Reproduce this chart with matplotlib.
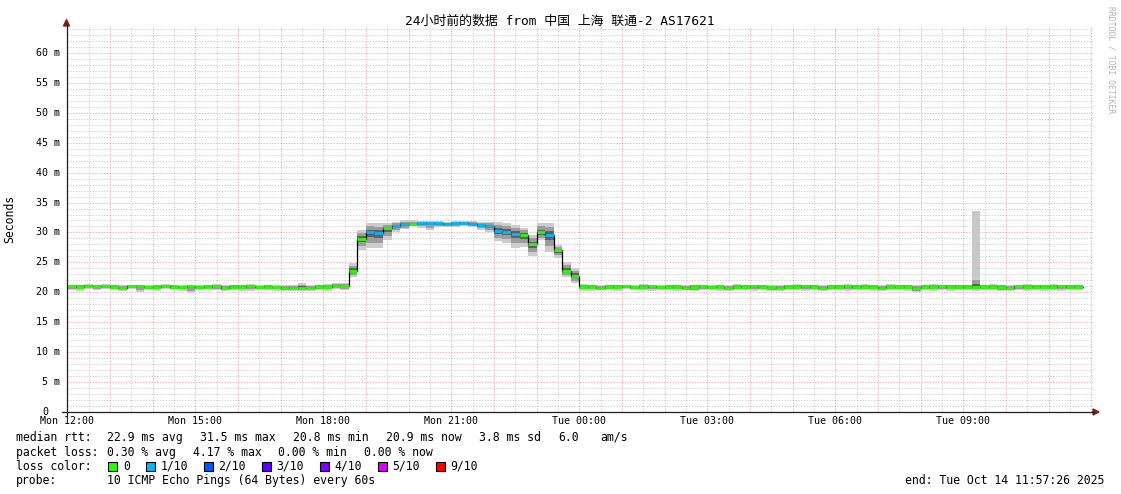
import matplotlib
matplotlib.use('Agg')
import matplotlib.pyplot as plt
from matplotlib.lines import Line2D
from matplotlib.patches import Polygon, Rectangle

# ---------------- data (12-minute bins, hours from Mon 12:00) ----------------
bin_hours = 0.2
first_bin_start = -0.2
median_ms = [
    20.9, 21.0, 20.9, 21.1, 21.0, 21.0, 20.9, 20.8, 21.0, 21.0,
    20.9, 20.9, 21.0, 20.9, 20.9, 21.0, 20.9, 20.9, 21.0, 20.8,
    20.9, 20.9, 21.0, 20.9, 20.9, 20.9, 20.8, 20.8, 20.8, 20.8,
    20.9, 20.9, 21.1, 21.0, 23.6, 28.9, 30.0, 29.9, 30.7, 31.1,
    31.4, 31.4, 31.5, 31.5, 31.5, 31.4, 31.5, 31.5, 31.45, 31.25,
    31.1, 30.3, 30.1, 29.75, 29.5, 28.0, 30.0, 29.6, 27.0, 23.6,
    22.8, 20.9, 20.9, 20.8, 20.9, 20.9, 21.0, 20.9, 20.9, 21.0,
    20.9, 20.9, 20.9, 20.8, 20.9, 21.0, 20.9, 20.9, 20.8, 20.9,
    20.9, 21.0, 20.9, 20.9, 20.8, 20.9, 20.9, 21.0, 20.9, 20.8,
    20.9, 20.9, 21.0, 20.9, 20.9, 20.9, 20.8, 20.9, 20.9, 20.9,
    20.8, 20.9, 20.9, 21.0, 20.9, 20.9, 20.9, 20.9, 20.9, 20.9,
    20.9, 20.8, 21.0, 20.9, 20.9, 20.9, 20.9, 21.0, 20.9, 20.9,
]
loss_tenths = [
    0, 0, 0, 0, 0, 0, 0, 0, 0, 0,
    0, 0, 0, 0, 0, 0, 0, 0, 0, 0,
    0, 0, 0, 0, 0, 0, 0, 0, 0, 0,
    0, 0, 0, 0, 0, 0, 1, 1, 0, 1,
    1, 0, 1, 1, 1, 1, 1, 1, 1, 1,
    1, 1, 1, 1, 0, 0, 0, 1, 0, 0,
    0, 0, 0, 0, 0, 0, 0, 0, 0, 0,
    0, 0, 0, 0, 0, 0, 0, 0, 0, 0,
    0, 0, 0, 0, 0, 0, 0, 0, 0, 0,
    0, 0, 0, 0, 0, 0, 0, 0, 0, 0,
    0, 0, 0, 0, 0, 0, 0, 0, 0, 0,
    0, 0, 0, 0, 0, 0, 0, 0, 0, 0,
]
smoke_low = [
    20.3, 20.4, 20.3, 20.5, 20.4, 20.5, 20.4, 20.3, 20.5, 20.0,
    20.4, 20.3, 20.5, 20.4, 20.3, 19.9, 20.4, 20.5, 20.4, 20.3,
    20.4, 20.3, 20.2, 20.4, 20.4, 20.3, 20.2, 20.3, 20.2, 20.3,
    20.4, 20.3, 20.5, 20.4, 22.6, 27.1, 27.4, 27.4, 28.7, 30.1,
    30.5, 31.0, 30.8, 30.4, 30.9, 30.9, 30.9, 31.0, 30.9, 30.4,
    30.1, 28.5, 28.3, 27.4, 27.6, 26.0, 28.7, 26.8, 25.7, 22.6,
    21.5, 20.3, 20.3, 20.4, 20.4, 20.3, 20.5, 20.4, 20.4, 20.3,
    20.4, 20.4, 20.3, 20.4, 20.2, 20.4, 20.4, 20.3, 20.3, 20.4,
    20.4, 20.3, 20.4, 20.2, 20.3, 20.4, 20.4, 20.3, 20.4, 20.3,
    20.4, 20.4, 20.3, 20.4, 20.4, 20.3, 20.2, 20.4, 20.4, 20.3,
    20.0, 20.4, 20.3, 20.4, 20.3, 20.4, 20.4, 20.3, 20.4, 20.4,
    20.2, 20.3, 20.4, 20.3, 20.4, 20.3, 20.4, 20.3, 20.4, 20.4,
]
smoke_high = [
    21.4, 21.3, 21.3, 21.4, 21.3, 21.4, 21.3, 21.2, 21.3, 21.3,
    21.2, 21.3, 21.4, 21.3, 21.2, 21.3, 21.2, 21.3, 21.4, 21.2,
    21.3, 21.3, 21.4, 21.2, 21.3, 21.2, 21.3, 21.2, 21.5, 21.3,
    21.3, 21.4, 21.6, 21.6, 24.9, 30.4, 31.6, 31.5, 31.5, 31.8,
    32.0, 32.0, 31.9, 31.9, 31.9, 31.8, 31.9, 31.9, 31.9, 31.8,
    31.8, 31.8, 31.6, 31.3, 30.8, 29.6, 31.6, 31.6, 27.9, 25.0,
    24.0, 21.4, 21.3, 21.2, 21.3, 21.3, 21.3, 21.2, 21.4, 21.3,
    21.2, 21.3, 21.3, 21.2, 21.3, 21.3, 21.2, 21.3, 21.3, 21.4,
    21.3, 21.3, 21.3, 21.2, 21.3, 21.3, 21.4, 21.3, 21.3, 21.2,
    21.3, 21.3, 21.4, 21.3, 21.4, 21.3, 21.3, 21.4, 21.3, 21.3,
    21.2, 21.3, 21.4, 21.3, 21.3, 21.3, 21.3, 22.6, 21.3, 21.4,
    21.3, 21.3, 21.3, 21.4, 21.3, 21.3, 21.4, 21.3, 21.3, 21.3,
]
outlier_bins = [107]
outlier_ms = [33.6]

y_ticks = [0, 5, 10, 15, 20, 25, 30, 35, 40, 45, 50, 55, 60]
y_tick_labels = ["0", "5 m", "10 m", "15 m", "20 m", "25 m", "30 m", "35 m",
                 "40 m", "45 m", "50 m", "55 m", "60 m"]
x_ticks = [0, 3, 6, 9, 12, 15, 18, 21]
x_tick_labels = ["Mon 12:00", "Mon 15:00", "Mon 18:00", "Mon 21:00",
                 "Tue 00:00", "Tue 03:00", "Tue 06:00", "Tue 09:00"]

title = "24小时前的数据 from 中国 上海 联通-2 AS17621"
loss_levels = ["0", "1/10", "2/10", "3/10", "4/10", "5/10", "9/10"]
loss_colors = ["#26ff00", "#00b8ff", "#0059ff", "#5e00ff", "#7e00ff", "#dd00ff", "#ff0000"]
rtt_stats = ["22.9 ms avg", "31.5 ms max", "20.8 ms min", "20.9 ms now", "3.8 ms sd", "6.0", "am/s"]
loss_stats = ["0.30 % avg", "4.17 % max", "0.00 % min", "0.00 % now"]

# ---------------- figure ----------------
W, H = 1121, 494
fig = plt.figure(figsize=(W / 100, H / 100), dpi=100)
fig.patch.set_facecolor("white")
MONO = "DejaVu Sans Mono"


def fx(px):
    return px / W


def fy(py):
    return 1 - py / H


ax_l, ax_r, ax_t, ax_b = 66.5, 1093, 26, 412
ax = fig.add_axes([fx(ax_l), fy(ax_b), fx(ax_r) - fx(ax_l), fy(ax_t) - fy(ax_b)])
ax.set_xlim(-0.0187, 24.04)
ax.set_ylim(0, 64.5)
ax.set_facecolor("white")
for s in ax.spines.values():
    s.set_visible(False)
ax.set_xticks([])
ax.set_yticks([])

minor_c = (0.56, 0.56, 0.56, 0.38)
major_c = (0.87, 0.31, 0.31, 0.42)
dash = (0, (1.4, 1.4))
for v in range(1, 65):
    if v % 5 == 0:
        ax.axhline(v, color=major_c, lw=0.72, linestyle=dash, zorder=0)
    else:
        ax.axhline(v, color=minor_c, lw=0.72, linestyle=dash, zorder=0)
for k in range(0, 49):
    t = k * 0.5
    if t <= 0:
        continue
    if k % 2 == 0:
        ax.axvline(t, color=major_c, lw=0.72, linestyle=dash, zorder=0)
    else:
        ax.axvline(t, color=minor_c, lw=0.72, linestyle=dash, zorder=0)

# smoke
n = len(median_ms)
starts = [first_bin_start + bin_hours * i for i in range(n)]
bands = [(1.0, "#cccccc"), (0.65, "#9c9c9c"), (0.3, "#606060")]
for frac, col in bands:
    bottoms = [m - frac * (m - lo) for m, lo in zip(median_ms, smoke_low)]
    tops = [m + frac * (hi - m) for m, hi in zip(median_ms, smoke_high)]
    ax.bar(starts, [t - b for t, b in zip(tops, bottoms)], bottom=bottoms,
           width=bin_hours, align="edge", color=col, linewidth=0, zorder=2)
for b, v in zip(outlier_bins, outlier_ms):
    ax.bar([starts[b]], [v - smoke_high[b]], bottom=[smoke_high[b]], width=bin_hours,
           align="edge", color="#c8c8c8", linewidth=0, zorder=2)

# median line
ax.step(starts + [starts[-1] + bin_hours], median_ms + [median_ms[-1]], where="post",
        color="black", lw=0.9, zorder=3)
ax.hlines(median_ms, starts, [s + bin_hours for s in starts],
          colors=[loss_colors[l] for l in loss_tenths], lw=2.0, zorder=4)

# axes with arrows (figure pixel coords)
fig.add_artist(Line2D([fx(62), fx(1094)], [fy(412), fy(412)], color="#1f1f1f", lw=0.9))
fig.add_artist(Line2D([fx(66.5), fx(66.5)], [fy(415), fy(24)], color="#1f1f1f", lw=0.9))
fig.add_artist(Polygon([[fx(1093), fy(409)], [fx(1093), fy(415)], [fx(1099), fy(412)]],
                       closed=True, color="#7f1f1f", transform=fig.transFigure))
fig.add_artist(Polygon([[fx(63.5), fy(26)], [fx(69.5), fy(26)], [fx(66.5), fy(19.5)]],
                       closed=True, color="#7f1f1f", transform=fig.transFigure))

# tick labels
px_per_ms = (ax_b - ax_t) / 64.5
for v, lab in zip(y_ticks, y_tick_labels):
    yy = ax_b - v * px_per_ms
    xr = 48 if v == 0 else 60
    fig.text(fx(xr), fy(yy), lab, ha="right", va="center", fontsize=7.2, family=MONO)
px_per_h = (ax_r - ax_l) / (24.04 + 0.0187)
for t, lab in zip(x_ticks, x_tick_labels):
    xx = ax_l + (t + 0.0187) * px_per_h
    fig.text(fx(xx), fy(421), lab, ha="center", va="center", fontsize=7.2, family=MONO)

# title, axis label, watermark
fig.text(fx(560), fy(21), title, ha="center", va="center", fontsize=9.3,
         family=[MONO, "Noto Sans CJK SC"])
fig.text(fx(10), fy(219), "Seconds", ha="center", va="center", rotation=90,
         fontsize=8.3, family=MONO)
fig.text(fx(1111), fy(60), "RRDTOOL / TOBI OETIKER", ha="center", va="center",
         rotation=270, fontsize=5.8, family=MONO, color="#b4b4b4")

# legend block
fs = 8.3
fig.text(fx(16), fy(437), "median rtt:", ha="left", va="center", fontsize=fs, family=MONO)
for x, s in zip([107, 200, 293, 386, 479, 558, 600], rtt_stats):
    fig.text(fx(x), fy(437), s, ha="left", va="center", fontsize=fs, family=MONO)
fig.text(fx(16), fy(452), "packet loss:", ha="left", va="center", fontsize=fs, family=MONO)
for x, s in zip([107, 193, 278.5, 364], loss_stats):
    fig.text(fx(x), fy(452), s, ha="left", va="center", fontsize=fs, family=MONO)
fig.text(fx(16), fy(466), "loss color:", ha="left", va="center", fontsize=fs, family=MONO)
for x, lab, col in zip([108, 145.5, 203.5, 261.5, 319.5, 377.5, 435.5], loss_levels, loss_colors):
    fig.add_artist(Rectangle((fx(x), fy(470.5)), 9 / W, 9 / H, facecolor=col,
                             edgecolor="black", lw=0.8, transform=fig.transFigure))
    fig.text(fx(x + 15), fy(466), lab, ha="left", va="center", fontsize=fs, family=MONO)
fig.text(fx(16), fy(480), "probe:", ha="left", va="center", fontsize=fs, family=MONO)
fig.text(fx(107), fy(480), "10 ICMP Echo Pings (64 Bytes) every 60s", ha="left",
         va="center", fontsize=fs, family=MONO)
fig.text(fx(1104), fy(480), "end: Tue Oct 14 11:57:26 2025", ha="right", va="center",
         fontsize=fs, family=MONO)

fig.savefig("out.png", dpi=100, facecolor="white")
